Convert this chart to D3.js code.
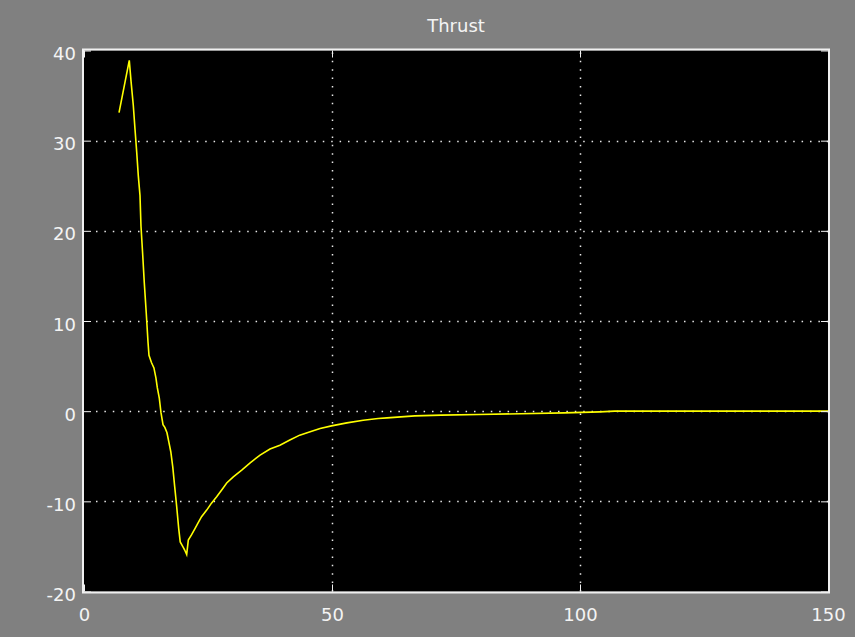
<!DOCTYPE html>
<html>
<head>
<meta charset="utf-8">
<script src="https://cdn.jsdelivr.net/npm/d3@7"></script>
<style>
  html, body { margin: 0; padding: 0; background: #808080; }
  svg { display: block; }
</style>
</head>
<body>
<svg id="chart" width="855" height="637"></svg>
<script>
// Thrust response over time
const time = [7.06, 9.13, 9.48, 9.94, 10.28, 10.63, 10.95, 11.29, 11.49, 11.83, 12.16, 12.56, 12.9, 13.1,
  13.6, 14.1, 14.5, 14.78, 15.18, 15.52, 15.93, 16.3, 16.73, 17.1, 17.5, 17.9, 18.29, 18.69, 19.09,
  19.4, 19.9, 20.3, 20.7, 21.03, 21.7, 22.4, 23.0, 23.7, 24.7, 25.7, 26.75, 27.76, 28.77, 30.1, 31.8,
  33.5, 35.5, 37.5, 39.5, 41.5, 43.5, 45.6, 47.6, 49.9, 53.0, 56.3, 59.3, 61.1, 66.7, 72.0, 79.6,
  88.0, 96.8, 104.0, 107.0, 150.0];
const thrust = [33.1, 38.9, 36.6, 33.9, 31.3, 28.7, 26.1, 23.9, 20.5, 17.4, 14.2, 10.8, 7.7, 6.2,
  5.4, 4.8, 3.7, 2.6, 1.44, -0.17, -1.5, -1.8, -2.4, -3.4, -4.5, -6.2, -8.4, -10.6, -13.0,
  -14.5, -15.0, -15.4, -15.9, -14.3, -13.7, -13.0, -12.4, -11.7, -11.0, -10.2, -9.5, -8.75, -7.97, -7.28, -6.53,
  -5.73, -4.87, -4.2, -3.77, -3.2, -2.66, -2.29, -1.92, -1.63, -1.3, -1.0, -0.81, -0.74, -0.52, -0.44, -0.37,
  -0.28, -0.19, -0.08, 0.0, 0.0];

const xTicks = [0, 50, 100, 150];
const yTicks = [-20, -10, 0, 10, 20, 30, 40];
const title = "Thrust";

const W = 855, H = 637;
const margin = { left: 84, right: 27, top: 50.5, bottom: 45.5 };
const iw = W - margin.left - margin.right;
const ih = H - margin.top - margin.bottom;

const svg = d3.select("#chart");
svg.append("rect").attr("width", W).attr("height", H).attr("fill", "#808080");

const x = d3.scaleLinear().domain([0, 150]).range([0, iw]);
const y = d3.scaleLinear().domain([-20, 40]).range([ih, 0]);

const g = svg.append("g").attr("transform", `translate(${margin.left},${margin.top})`);

// Axes background
g.append("rect").attr("width", iw).attr("height", ih).attr("fill", "#000");

// Dotted grid
const gridStyle = sel => sel.attr("stroke", "#e8e8e8").attr("stroke-width", 1.5)
  .attr("stroke-dasharray", "1.5,6.9").attr("fill", "none");

g.selectAll("line.gy").data(yTicks.filter(v => v > -20 && v < 40)).join("line")
  .attr("class", "gy")
  .attr("x1", 12).attr("x2", iw)
  .attr("y1", d => Math.round(y(d) + margin.top) - margin.top + 0.5)
  .attr("y2", d => Math.round(y(d) + margin.top) - margin.top + 0.5)
  .call(gridStyle);

g.selectAll("line.gx").data(xTicks.filter(v => v > 0 && v < 150)).join("line")
  .attr("class", "gx")
  .attr("y1", ih).attr("y2", 0)
  .attr("x1", d => Math.round(x(d)) + 0.5).attr("x2", d => Math.round(x(d)) + 0.5)
  .call(gridStyle);

// Thrust trace
const line = d3.line().x((d, i) => x(time[i])).y(d => y(d));
g.append("path").datum(thrust)
  .attr("d", line)
  .attr("fill", "none")
  .attr("stroke", "#ffff00")
  .attr("stroke-width", 1.6)
  .attr("stroke-linejoin", "miter");

// Axes: inward ticks, labels outside
const fontFamily = "'DejaVu Sans', sans-serif";
const tickLen = 7;
const fmt = d => String(d);

const yAxis = d3.axisLeft(y).tickValues(yTicks).tickSize(-tickLen).tickPadding(8).tickFormat(fmt);
const yR = d3.axisRight(y).tickValues(yTicks).tickSize(-tickLen).tickFormat("");
const xAxis = d3.axisBottom(x).tickValues(xTicks).tickSize(-tickLen).tickPadding(17).tickFormat(fmt);
const xT = d3.axisTop(x).tickValues(xTicks).tickSize(-tickLen).tickFormat("");

function styleAxis(sel) {
  sel.select(".domain").remove();
  sel.selectAll(".tick line").attr("stroke", "#f0f0f0").attr("stroke-width", 1);
  sel.selectAll(".tick text").attr("fill", "#f4f4f4")
    .style("font-family", fontFamily).style("font-size", "18px");
}

g.append("g").call(yAxis).call(styleAxis).selectAll(".tick text").attr("dy", "0.5em");
g.append("g").attr("transform", `translate(${iw},0)`).call(yR).call(styleAxis);
g.append("g").attr("transform", `translate(0,${ih})`).call(xAxis).call(styleAxis);
g.append("g").call(xT).call(styleAxis);

// Axes box
g.append("rect").attr("x", -1).attr("y", -1).attr("width", iw + 2).attr("height", ih + 2)
  .attr("fill", "none").attr("stroke", "#f0f0f0").attr("stroke-width", 2);

// Title
svg.append("text")
  .attr("x", margin.left + iw / 2).attr("y", 32)
  .attr("text-anchor", "middle")
  .attr("fill", "#f4f4f4")
  .style("font-family", fontFamily).style("font-size", "18px")
  .text(title);
</script>
</body>
</html>
